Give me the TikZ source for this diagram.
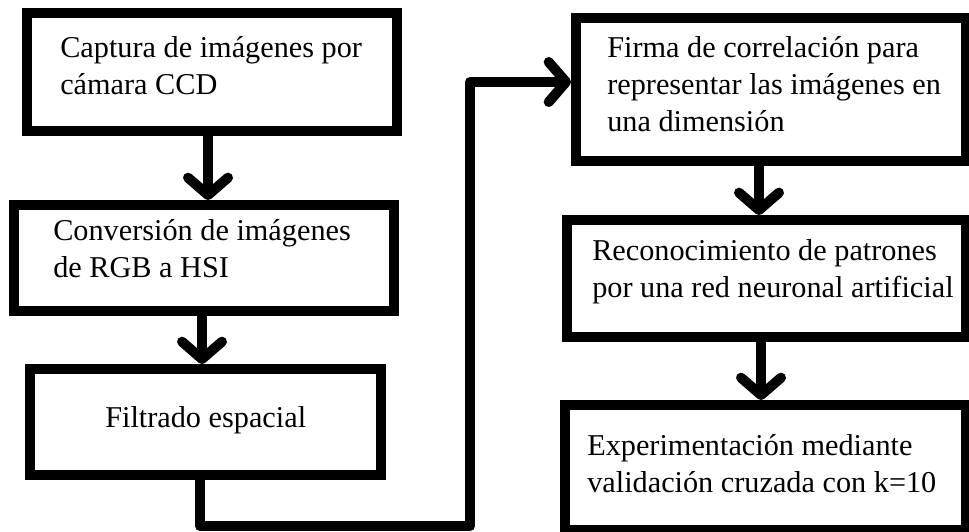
\documentclass[tikz,border=0pt]{standalone}
\usepackage{fontspec}
\setmainfont{Liberation Serif}
\usetikzlibrary{arrows.meta,calc}
\begin{document}
\begin{tikzpicture}[x=0.75pt,y=-0.75pt,
  box/.style={draw=black, line width=7.5pt, rectangle, inner sep=0pt},
  arr/.style={draw=black, line width=7.5pt, line join=round,
    -{Straight Barb[length=13pt,width=30pt,line cap=round,line join=round]}},
  tx/.style={anchor=base west, align=left, inner sep=0pt, text=black,
    font=\fontsize{22.7}{27.75}\selectfont}]
\useasboundingbox (0,0) rectangle (969,531);
\fill[white] (0,0) rectangle (969,531);
\clip (0,0) rectangle (969,531);

% boxes
\node[box, minimum width=277.5pt, minimum height=88.5pt]  (b1) at (212,72) {};
\node[box, minimum width=285pt,   minimum height=79.5pt]  (b2) at (204,258) {};
\node[box, minimum width=263.25pt,minimum height=79.5pt]  (b3) at (205.5,422) {};
\node[box, minimum width=292.5pt, minimum height=107.25pt](b4) at (771,89.5) {};
\node[box, minimum width=299.25pt,minimum height=87.75pt] (b5) at (766.5,278.5) {};
\node[box, minimum width=300.75pt,minimum height=93.75pt] (b6) at (765.5,467.5) {};

% texts (base anchor = baseline of the last line)
\node[tx] (t1) at (60,95) {Captura de imágenes por\\cámara CCD};
\node[tx] (t2) at (53,277) {Conversión de imágenes\\de RGB a HSI};
\node[tx] (t3) at (105,427) {Filtrado espacial};
\node[tx] (t4) at (607,132) {Firma de correlación para\\representar las imágenes en\\una dimensión};
\node[tx] (t5) at (592,297) {Reconocimiento de patrones\\por una red neuronal artificial};
\node[tx] (t6) at (587,492) {Experimentación mediante\\validación cruzada con k=10};

% connectors
\path ([xshift=-3pt]b1.south) coordinate (a1);
\draw[arr] (a1) -- (a1 |- b2.north);
\path ([xshift=-1.5pt]b2.south) coordinate (a2);
\draw[arr] (a2) -- (a2 |- b3.north);
\path ([xshift=-9pt]b4.south) coordinate (a4);
\draw[arr] (a4) -- (a4 |- b5.north);
\path ([xshift=-4.125pt]b5.south) coordinate (a5);
\draw[arr] (a5) -- (a5 |- b6.north);

\path ([xshift=-4.125pt]b3.south) coordinate (a3);
\coordinate (c2) at (470,526);
\coordinate (c3) at (470,82);
\draw[arr] (a3) |- (c2) -- (c3) -- (c3 -| b4.west);
\end{tikzpicture}
\end{document}
